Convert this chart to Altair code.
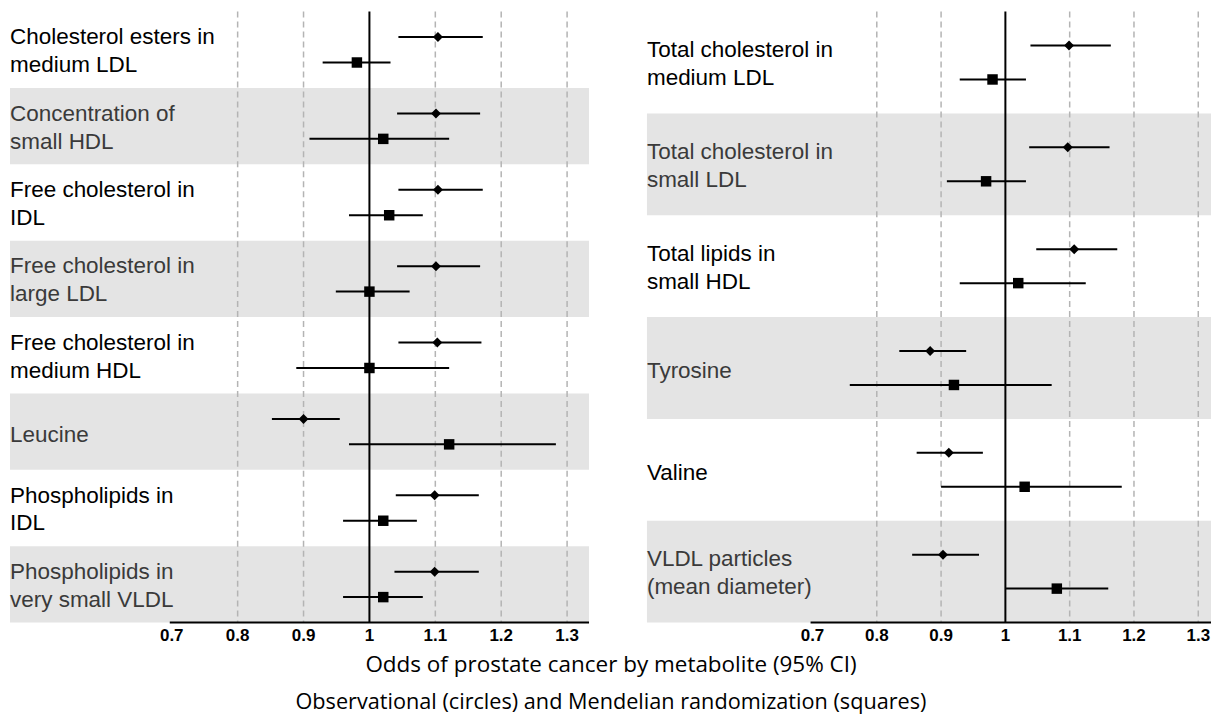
import altair as alt
import pandas as pd

# ---------------- data ----------------
left_labels = ["Cholesterol esters in\nmedium LDL", "Concentration of\nsmall HDL",
               "Free cholesterol in\nIDL", "Free cholesterol in\nlarge LDL",
               "Free cholesterol in\nmedium HDL", "Leucine",
               "Phospholipids in\nIDL", "Phospholipids in\nvery small VLDL"]
left_obs = [1.104, 1.101, 1.104, 1.101, 1.103, 0.900, 1.099, 1.099]
left_obs_lo = [1.044, 1.042, 1.044, 1.042, 1.044, 0.852, 1.040, 1.038]
left_obs_hi = [1.172, 1.168, 1.172, 1.168, 1.170, 0.955, 1.166, 1.166]
left_mr = [0.981, 1.021, 1.030, 1.000, 1.000, 1.121, 1.021, 1.021]
left_mr_lo = [0.929, 0.909, 0.969, 0.949, 0.889, 0.969, 0.960, 0.960]
left_mr_hi = [1.032, 1.121, 1.081, 1.061, 1.121, 1.283, 1.072, 1.081]

right_labels = ["Total cholesterol in\nmedium LDL", "Total cholesterol in\nsmall LDL",
                "Total lipids in\nsmall HDL", "Tyrosine", "Valine",
                "VLDL particles\n(mean diameter)"]
right_obs = [1.099, 1.097, 1.107, 0.883, 0.912, 0.903]
right_obs_lo = [1.039, 1.037, 1.048, 0.835, 0.862, 0.855]
right_obs_hi = [1.164, 1.162, 1.174, 0.939, 0.965, 0.959]
right_mr = [0.980, 0.970, 1.020, 0.920, 1.030, 1.080]
right_mr_lo = [0.929, 0.909, 0.929, 0.758, 0.900, 1.001]
right_mr_hi = [1.032, 1.032, 1.125, 1.072, 1.181, 1.160]

tick_values = [0.7, 0.8, 0.9, 1.0, 1.1, 1.2, 1.3]
tick_labels = ["0.7", "0.8", "0.9", "1", "1.1", "1.2", "1.3"]
grid_values = [0.8, 0.9, 1.1, 1.2, 1.3]
null_value = [1.0]

title_text = "Odds of prostate cancer by metabolite (95% CI)"
subtitle_text = "Observational (circles) and Mendelian randomization (squares)"

LABEL_FONT = "Liberation Sans"
PLOT_H = 612


def panel(labels, obs, olo, ohi, mr, mlo, mhi, width, xdom):
    n = len(labels)
    rows = pd.DataFrame({"label": labels, "i": list(range(n))})
    rows["top"] = rows["i"]
    rows["bot"] = rows["i"] + 1
    rows["mid"] = rows["i"] + 0.5
    rows["shade"] = ["band" if k % 2 == 1 else "plain" for k in range(n)]
    rows["nlines"] = [lab.count("\n") + 1 for lab in labels]

    est = pd.DataFrame({
        "type": ["obs"] * n + ["mr"] * n,
        "ypos": [k + 1 / 3 for k in range(n)] + [k + 2 / 3 for k in range(n)],
        "est": obs + mr,
        "lo": olo + mlo,
        "hi": ohi + mhi,
    })
    grid = pd.DataFrame({"g": grid_values})
    ticks = pd.DataFrame({"v": tick_values, "t": tick_labels})
    nul = pd.DataFrame({"v": null_value})
    axl = pd.DataFrame({"a": [0.697], "b": [xdom[1]]})

    xs = alt.Scale(domain=xdom, nice=False, zero=False)
    ys = alt.Scale(domain=[0, n], reverse=True, nice=False, zero=False)

    bands = alt.Chart(rows).transform_filter(alt.datum.shade == "band").mark_rect(
        color="#e4e4e4").encode(
        x=alt.value(0), x2=alt.value(width),
        y=alt.Y("top:Q", scale=ys, axis=None), y2="bot:Q")

    gridl = alt.Chart(grid).mark_rule(color="#b4b4b4", strokeWidth=1.5,
                                      strokeDash=[6, 4]).encode(
        x=alt.X("g:Q", scale=xs, axis=None),
        y=alt.value(0), y2=alt.value(PLOT_H))

    one = alt.Chart(nul).mark_rule(color="black", strokeWidth=2).encode(
        x=alt.X("v:Q", scale=xs, axis=None), y=alt.value(0), y2=alt.value(PLOT_H))

    baseline = alt.Chart(axl).mark_rule(color="black", strokeWidth=2).encode(
        x=alt.X("a:Q", scale=xs, axis=None), x2="b:Q",
        y=alt.value(PLOT_H))

    bars = alt.Chart(est).mark_rule(color="black", strokeWidth=2).encode(
        x=alt.X("lo:Q", scale=xs, axis=None), x2="hi:Q",
        y=alt.Y("ypos:Q", scale=ys, axis=None))

    dia = alt.Chart(est).transform_filter(alt.datum.type == "obs").mark_point(
        shape="diamond", filled=True, size=100, color="black", opacity=1).encode(
        x=alt.X("est:Q", scale=xs, axis=None),
        y=alt.Y("ypos:Q", scale=ys, axis=None))

    sq = alt.Chart(est).transform_filter(alt.datum.type == "mr").mark_point(
        shape="square", filled=True, size=110, color="black", opacity=1).encode(
        x=alt.X("est:Q", scale=xs, axis=None),
        y=alt.Y("ypos:Q", scale=ys, axis=None))

    def label_layer(nl, dy):
        return alt.Chart(rows).transform_filter(alt.datum.nlines == nl).mark_text(
            align="left", baseline="middle", fontSize=22.5, lineHeight=28,
            lineBreak="\n", font=LABEL_FONT, dy=dy).encode(
            x=alt.value(0),
            y=alt.Y("mid:Q", scale=ys, axis=None),
            text="label:N",
            color=alt.Color("shade:N",
                            scale=alt.Scale(domain=["plain", "band"],
                                            range=["#000000", "#3a3a3a"]),
                            legend=None))

    txt1 = label_layer(1, 3.5)
    txt2 = label_layer(2, -12.5)

    tlab = alt.Chart(ticks).mark_text(
        align="center", baseline="middle", fontSize=17, font=LABEL_FONT,
        fontWeight="bold", color="black").encode(
        x=alt.X("v:Q", scale=xs, axis=None),
        y=alt.value(PLOT_H + 13),
        text="t:N")

    return alt.layer(bands, gridl, one, bars, dia, sq, txt1, txt2, baseline,
                     tlab).properties(width=width, height=PLOT_H)


left = panel(left_labels, left_obs, left_obs_lo, left_obs_hi,
             left_mr, left_mr_lo, left_mr_hi, 580, [0.4545, 1.3333])
right = panel(right_labels, right_obs, right_obs_lo, right_obs_hi,
              right_mr, right_mr_lo, right_mr_hi, 565, [0.4425, 1.3198])

chart = alt.hconcat(left, right, spacing=57).properties(
    padding={"left": 2, "top": 2, "right": 0, "bottom": 0},
    title=alt.TitleParams(
        text=title_text, subtitle=subtitle_text, orient="bottom",
        anchor="middle", font="Open Sans", subtitleFont="Open Sans",
        fontSize=22.5, subtitleFontSize=21.7, fontWeight="normal",
        color="black", subtitleColor="black", offset=11, subtitlePadding=15.5),
).configure_view(stroke=None)

chart.save("out.html", embed_options={"renderer": "svg", "actions": False})
